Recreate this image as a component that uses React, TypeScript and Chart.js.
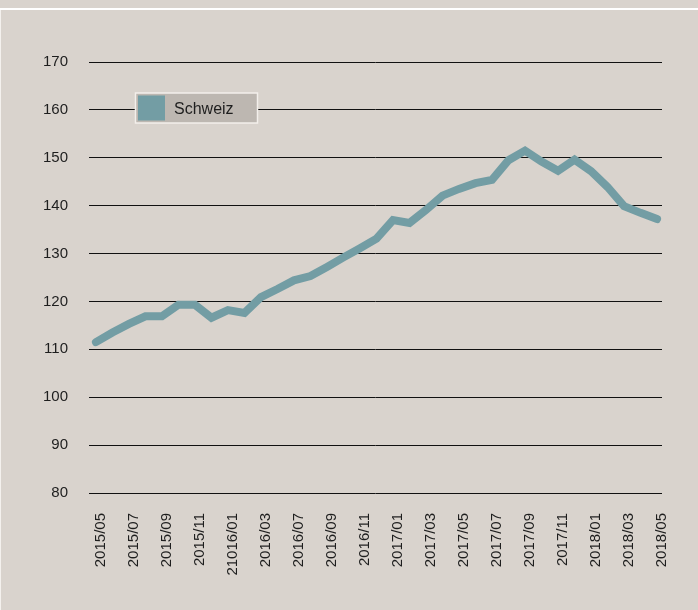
import React, { useEffect, useRef } from "react";
import { Chart, registerables } from "chart.js";

Chart.register(...registerables);

// ---- data ----
const tickLabels = [
  "2015/05", "2015/07", "2015/09", "2015/11", "21016/01", "2016/03",
  "2016/07", "2016/09", "2016/11", "2017/01", "2017/03", "2017/05",
  "2017/07", "2017/09", "2017/11", "2018/01", "2018/03", "2018/05",
];
const seriesName = "Schweiz";
const schweizValues = [
  111.5, 113.5, 115.3, 116.9, 116.9, 119.3, 119.3, 116.6, 118.2, 117.6,
  120.9, 122.6, 124.4, 125.3, 127.2, 129.2, 131.1, 133.1, 137.0, 136.4,
  139.1, 142.1, 143.5, 144.7, 145.4, 149.5, 151.5, 149.2, 147.3, 149.6,
  147.2, 143.9, 139.9, 138.5, 137.2,
];
const yMin = 80;
const yMax = 170;
const yStep = 10;

// ---- style ----
const BG = "#d9d3cd";
const LINE = "#739da4";
const TEXT = "#1e1e1e";
const FONT = "'Liberation Sans', Arial, sans-serif";
const LABEL_SHIFT = 0.3;

const legendPlugin = {
  id: "boxLegend",
  afterDraw(chart: any) {
    const { ctx, chartArea } = chart;
    const x = chartArea.left + 46.5;
    const y = chartArea.top + 31;
    ctx.save();
    ctx.fillStyle = "#bdb7b1";
    ctx.fillRect(x, y, 122, 30);
    ctx.strokeStyle = "#f3efeb";
    ctx.lineWidth = 1.5;
    ctx.strokeRect(x, y, 122, 30);
    ctx.fillStyle = LINE;
    ctx.fillRect(x + 2.5, y + 2.5, 27, 25);
    ctx.fillStyle = TEXT;
    ctx.font = `16px ${FONT}`;
    ctx.textBaseline = "alphabetic";
    ctx.textAlign = "left";
    ctx.fillText(seriesName, x + 38.5, y + 21);
    ctx.restore();
  },
};

export default function App() {
  const ref = useRef<HTMLCanvasElement>(null);

  useEffect(() => {
    document.body.style.margin = "0";
    document.body.style.background = BG;
    const canvas = ref.current;
    if (!canvas) return;
    const chart = new Chart(canvas, {
      type: "line",
      data: {
        datasets: [
          {
            label: seriesName,
            data: schweizValues.map((v, i) => ({ x: i, y: v })),
            borderColor: LINE,
            backgroundColor: LINE,
            borderWidth: 8,
            pointRadius: 0,
            tension: 0,
            fill: false,
            borderJoinStyle: "miter",
            borderCapStyle: "round",
          },
        ],
      },
      options: {
        animation: false,
        responsive: true,
        maintainAspectRatio: false,
        layout: { padding: { left: 0, top: 62, right: 36, bottom: 0 } },
        plugins: {
          legend: { display: false },
          tooltip: { enabled: false },
        },
        scales: {
          x: {
            type: "linear",
            min: -0.42,
            max: 34.3,
            afterBuildTicks: (scale: any) => {
              scale.ticks = tickLabels.map((_, k) => ({ value: 2 * k + LABEL_SHIFT }));
            },
            afterFit: (scale: any) => {
              scale.height = 117;
            },
            ticks: {
              autoSkip: false,
              minRotation: 90,
              maxRotation: 90,
              padding: 12,
              color: TEXT,
              font: { family: FONT, size: 15 },
              callback: (_v: any, idx: number) => tickLabels[idx],
            },
            grid: { display: false },
            border: { display: false },
          },
          y: {
            min: yMin,
            max: yMax,
            afterFit: (scale: any) => {
              scale.width = 89;
            },
            ticks: {
              stepSize: yStep,
              padding: 21,
              color: TEXT,
              font: { family: FONT, size: 15 },
            },
            grid: { color: "#111111", lineWidth: 1, drawTicks: false },
            border: { display: false },
          },
        },
      },
      plugins: [legendPlugin],
    });
    return () => chart.destroy();
  }, []);

  return (
    <div style={{ position: "relative", width: 698, height: 610, background: BG, overflow: "hidden" }}>
      <div style={{ position: "absolute", left: 0, right: 0, top: 8, height: 2, background: "#ffffff" }} />
      <div style={{ position: "absolute", left: 0, top: 10, bottom: 0, width: 1, background: "#f4f1ee" }} />
      <div style={{ position: "absolute", left: 0, top: 0, width: 698, height: 610 }}>
        <canvas ref={ref} />
      </div>
    </div>
  );
}
